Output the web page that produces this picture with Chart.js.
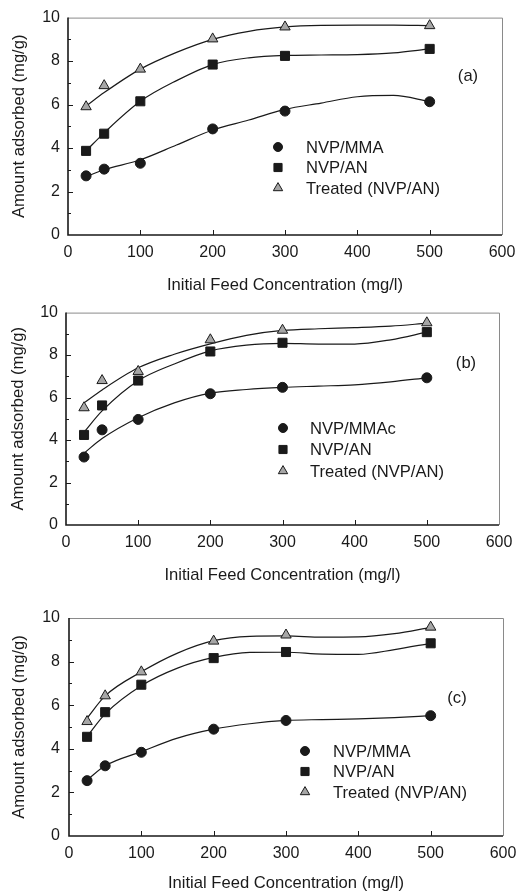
<!DOCTYPE html>
<html lang="en">
<head>
    <meta charset="UTF-8">
    <title>Amount adsorbed vs initial feed concentration</title>
    <script src="https://cdn.jsdelivr.net/npm/chart.js"></script>
    <style>
        body {
            margin: 0;
            background: #ffffff;
            width: 518px;
            height: 893px;
            overflow: hidden;
            position: relative;
        }
        .panel {
            position: absolute;
            left: 0;
        }
    </style>
</head>
<body>
    <div class="panel" style="top:0px"><canvas id="chartA" width="518" height="295"></canvas></div>
    <div class="panel" style="top:295px"><canvas id="chartB" width="518" height="295"></canvas></div>
    <div class="panel" style="top:590px"><canvas id="chartC" width="518" height="303"></canvas></div>

    <script>
        // feed concentrations (mg/l) where the points were measured
        const FEED = [25, 50, 100, 200, 300, 500];
        const FIT_X = [25, 50, 100, 150, 200, 250, 300, 350, 400, 450, 500];

        const X_MIN = 0, X_MAX = 600, X_STEP = 100;
        const Y_MIN = 0, Y_MAX = 10, Y_STEP = 2;

        const X_TITLE = 'Initial Feed Concentration (mg/l)';
        const Y_TITLE = 'Amount adsorbed (mg/g)';

        // panel (a)
        const A_LABELS = ['NVP/MMA', 'NVP/AN', 'Treated (NVP/AN)'];
        const A_MMA = [2.72, 3.03, 3.30, 4.88, 5.70, 6.13];
        const A_AN = [3.87, 4.66, 6.15, 7.84, 8.24, 8.56];
        const A_TREATED = [5.90, 6.87, 7.63, 9.02, 9.57, 9.63];
        const A_MMA_FIT = [2.69, 3.00, 3.46, 4.14, 4.83, 5.29, 5.78, 6.07, 6.36, 6.42, 6.13];
        const A_AN_FIT = [3.87, 4.70, 6.15, 7.10, 7.84, 8.15, 8.26, 8.28, 8.30, 8.38, 8.56];
        const A_TREATED_FIT = [5.93, 6.55, 7.63, 8.40, 9.00, 9.37, 9.57, 9.64, 9.65, 9.65, 9.63];

        // panel (b)
        const B_LABELS = ['NVP/MMAc', 'NVP/AN', 'Treated (NVP/AN)'];
        const B_MMAC = [3.20, 4.48, 4.97, 6.18, 6.48, 6.93];
        const B_AN = [4.24, 5.63, 6.80, 8.17, 8.58, 9.08];
        const B_TREATED = [5.52, 6.80, 7.23, 8.72, 9.17, 9.52];
        const B_MMAC_FIT = [3.38, 4.07, 5.05, 5.75, 6.21, 6.38, 6.48, 6.54, 6.60, 6.74, 6.93];
        const B_AN_FIT = [4.37, 5.37, 6.79, 7.58, 8.20, 8.47, 8.55, 8.52, 8.52, 8.72, 9.08];
        const B_TREATED_FIT = [5.75, 6.36, 7.40, 8.04, 8.53, 8.93, 9.16, 9.24, 9.29, 9.36, 9.50];

        // panel (c)
        const C_LABELS = ['NVP/MMA', 'NVP/AN', 'Treated (NVP/AN)'];
        const C_MMA = [2.54, 3.22, 3.84, 4.90, 5.30, 5.52];
        const C_AN = [4.55, 5.68, 6.94, 8.16, 8.44, 8.84];
        const C_TREATED = [5.25, 6.43, 7.53, 8.94, 9.22, 9.58];
        const C_MMA_FIT = [2.57, 3.22, 3.87, 4.49, 4.90, 5.15, 5.30, 5.34, 5.37, 5.43, 5.52];
        const C_AN_FIT = [4.56, 5.60, 6.89, 7.70, 8.19, 8.42, 8.43, 8.34, 8.33, 8.55, 8.84];
        const C_TREATED_FIT = [5.41, 6.43, 7.53, 8.39, 8.96, 9.16, 9.18, 9.12, 9.13, 9.28, 9.57];

        const FONT = "'Liberation Sans', Arial, sans-serif";
        const INK = '#1a1a1a';
        const TRI_FILL = '#a6a6a6';
        const TEXT_SIZE = 16.6;

        Chart.defaults.font.family = FONT;
        Chart.defaults.font.size = 16;
        Chart.defaults.color = INK;

        const toXY = (xs, ys) => xs.map((x, i) => ({ x: x, y: ys[i] }));

        const MARKERS = [
            { pointStyle: 'circle', radius: 5, bg: INK },
            { pointStyle: 'rect', radius: 6.4, bg: INK },
            { pointStyle: 'triangle', radius: 6, bg: TRI_FILL }
        ];

        function drawMarker(ctx, kind, x, y, scale) {
            const m = MARKERS[kind];
            const r = m.radius * scale;
            ctx.save();
            ctx.fillStyle = m.bg;
            ctx.strokeStyle = INK;
            ctx.lineWidth = 1;
            ctx.beginPath();
            if (m.pointStyle === 'circle') {
                ctx.arc(x, y, r, 0, Math.PI * 2);
            } else if (m.pointStyle === 'rect') {
                const s = Math.SQRT1_2 * r;
                ctx.rect(x - s, y - s, 2 * s, 2 * s);
            } else {
                for (let k = 0; k < 3; k++) {
                    const a = k * 2 * Math.PI / 3;
                    const px = x + Math.sin(a) * r, py = y - Math.cos(a) * r;
                    if (k === 0) ctx.moveTo(px, py); else ctx.lineTo(px, py);
                }
                ctx.closePath();
            }
            ctx.fill();
            ctx.stroke();
            ctx.restore();
        }

        // axis frame with inward ticks, panel tag and legend
        const framePlugin = {
            id: 'frame',
            afterDraw(chart, args, opts) {
                const { ctx, chartArea: a } = chart;
                const xs = chart.scales.x, ys = chart.scales.y;
                ctx.save();
                ctx.strokeStyle = '#8a8a8a';
                ctx.lineWidth = 1;
                ctx.beginPath();
                ctx.moveTo(a.left, a.top + 0.5);
                ctx.lineTo(a.right + 0.5, a.top + 0.5);
                ctx.lineTo(a.right + 0.5, a.bottom);
                ctx.stroke();

                ctx.strokeStyle = INK;
                ctx.lineWidth = 1.6;
                ctx.beginPath();
                ctx.moveTo(a.left, a.top);
                ctx.lineTo(a.left, a.bottom);
                ctx.lineTo(a.right, a.bottom);
                ctx.stroke();

                ctx.lineWidth = 1;
                ctx.beginPath();
                for (let v = X_MIN + X_STEP; v < X_MAX; v += X_STEP) {
                    const px = Math.round(xs.getPixelForValue(v)) + 0.5;
                    ctx.moveTo(px, a.bottom);
                    ctx.lineTo(px, a.bottom - 5);
                }
                for (let v = Y_MIN + 1; v < Y_MAX; v += 1) {
                    const py = Math.round(ys.getPixelForValue(v)) + 0.5;
                    ctx.moveTo(a.left, py);
                    ctx.lineTo(a.left + (v % Y_STEP === 0 ? 5 : 3), py);
                }
                ctx.stroke();

                ctx.fillStyle = INK;
                ctx.font = TEXT_SIZE + 'px ' + FONT;
                ctx.textAlign = 'center';
                ctx.textBaseline = 'middle';
                ctx.fillText(opts.tag, opts.tagX, opts.tagY);

                ctx.textAlign = 'left';
                opts.labels.forEach((label, i) => {
                    const y = opts.legY + i * opts.legGap;
                    drawMarker(ctx, i, opts.legMarkX, y, 0.9);
                    ctx.fillStyle = INK;
                    ctx.fillText(label, opts.legTextX, y + 1);
                });
                ctx.restore();
            }
        };

        function makePanel(id, p) {
            const pointSets = p.points.map((ys, i) => ({
                label: p.labels[i],
                data: toXY(FEED, ys),
                showLine: false,
                pointStyle: MARKERS[i].pointStyle,
                pointRadius: MARKERS[i].radius,
                pointBackgroundColor: MARKERS[i].bg,
                pointBorderColor: INK,
                pointBorderWidth: 1
            }));
            const fitSets = p.fits.map((ys, i) => ({
                label: p.labels[i] + ' fit',
                data: toXY(FIT_X, ys),
                showLine: true,
                borderColor: INK,
                borderWidth: 1.2,
                cubicInterpolationMode: 'monotone',
                pointRadius: 0
            }));
            const canvas = document.getElementById(id);
            return new Chart(canvas.getContext('2d'), {
                type: 'scatter',
                data: { datasets: pointSets.concat(fitSets) },
                plugins: [framePlugin],
                options: {
                    responsive: false,
                    animation: false,
                    devicePixelRatio: 1,
                    layout: { padding: { top: p.top, right: 518 - p.right, left: 0, bottom: 0 } },
                    plugins: {
                        legend: { display: false },
                        tooltip: { enabled: false },
                        frame: p.frame
                    },
                    scales: {
                        x: {
                            type: 'linear',
                            min: X_MIN,
                            max: X_MAX,
                            grid: { display: false, drawTicks: false },
                            border: { display: false },
                            // small padding keeps the "600" overhang inside the right margin;
                            // the tall line height moves the labels down instead
                            ticks: { stepSize: X_STEP, padding: 1, maxRotation: 0, font: { size: 16, lineHeight: 2.1 } },
                            title: {
                                display: true,
                                text: X_TITLE,
                                font: { size: TEXT_SIZE },
                                padding: { top: 0, bottom: p.xTitlePad }
                            },
                            afterFit: s => { s.height = canvas.height - p.bottom; }
                        },
                        y: {
                            min: Y_MIN,
                            max: Y_MAX,
                            grid: { display: false, drawTicks: false },
                            border: { display: false },
                            ticks: { stepSize: Y_STEP, padding: p.yTickPad, font: { size: 16 } },
                            title: {
                                display: true,
                                text: Y_TITLE,
                                font: { size: TEXT_SIZE },
                                padding: { top: p.yTitlePad, bottom: 0 }
                            },
                            afterFit: s => { s.width = p.left; }
                        }
                    }
                }
            });
        }

        makePanel('chartA', {
            labels: A_LABELS,
            points: [A_MMA, A_AN, A_TREATED],
            fits: [A_MMA_FIT, A_AN_FIT, A_TREATED_FIT],
            left: 68, right: 502, top: 17, bottom: 235,
            xTitlePad: 0, yTitlePad: 9, yTickPad: 8,
            frame: { tag: '(a)', tagX: 468, tagY: 76, labels: A_LABELS, legMarkX: 278, legTextX: 306, legY: 147, legGap: 20.5 }
        });

        makePanel('chartB', {
            labels: B_LABELS,
            points: [B_MMAC, B_AN, B_TREATED],
            fits: [B_MMAC_FIT, B_AN_FIT, B_TREATED_FIT],
            left: 66, right: 499, top: 12, bottom: 230,
            xTitlePad: 5, yTitlePad: 8, yTickPad: 8,
            frame: { tag: '(b)', tagX: 466, tagY: 68, labels: B_LABELS, legMarkX: 283, legTextX: 310, legY: 133, legGap: 21.5 }
        });

        makePanel('chartC', {
            labels: C_LABELS,
            points: [C_MMA, C_AN, C_TREATED],
            fits: [C_MMA_FIT, C_AN_FIT, C_TREATED_FIT],
            left: 69, right: 503, top: 28, bottom: 246,
            xTitlePad: 0, yTitlePad: 9, yTickPad: 9,
            frame: { tag: '(c)', tagX: 457, tagY: 108, labels: C_LABELS, legMarkX: 305, legTextX: 333, legY: 161, legGap: 20.5 }
        });
    </script>
</body>
</html>
